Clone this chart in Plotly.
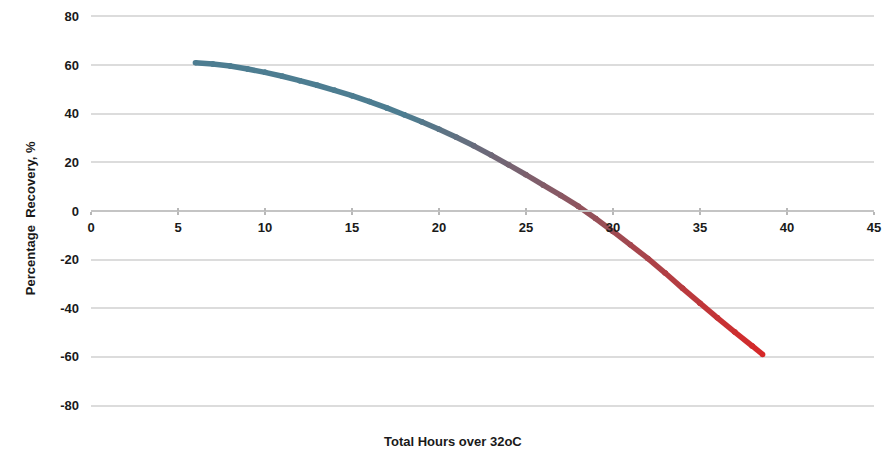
import plotly.graph_objects as go

# Data
hours = [6, 7, 8, 9, 10, 11, 12, 13, 14, 15, 16, 17, 18, 19, 20, 21, 22,
         23, 24, 25, 26, 27, 28, 29, 30, 31, 32, 33, 34, 35, 36, 37, 38, 38.6]
recovery = [61, 60.4, 59.6, 58.4, 57, 55.4, 53.6, 51.7, 49.6, 47.4, 45, 42.4, 39.6, 36.7, 33.6, 30.3, 26.8,
            23, 19, 14.9, 10.6, 6.4, 2.0, -3.1, -8.4, -13.9, -19.5, -25.5, -31.8, -37.9, -43.9, -49.8, -55.5, -59]

x_ticks = [0, 5, 10, 15, 20, 25, 30, 35, 40, 45]
y_ticks = [-80, -60, -40, -20, 0, 20, 40, 60, 80]

x_title = "Total Hours over 32oC"
y_title = "Percentage  Recovery, %"

START_RGB = (77, 125, 145)
END_RGB = (214, 40, 40)
FONT = "Liberation Sans, Arial, sans-serif"


def seg_color(xm):
    t = (xm - 18) / (38.6 - 18)
    t = max(0.0, min(1.0, t))
    r, g, b = (round(START_RGB[i] + (END_RGB[i] - START_RGB[i]) * t) for i in range(3))
    return f"rgb({r},{g},{b})"


fig = go.Figure()

for i in range(len(hours) - 1):
    xm = (hours[i] + hours[i + 1]) / 2
    c = seg_color(xm)
    fig.add_trace(go.Scatter(
        x=hours[i:i + 2], y=recovery[i:i + 2],
        mode="lines+markers",
        line=dict(color=c, width=5.5),
        marker=dict(color=[seg_color(hours[i]), seg_color(hours[i + 1])], size=5.5, line=dict(width=0)),
        showlegend=False, hoverinfo="skip",
    ))

# invisible trace for second x axis (inside ticks)
fig.add_trace(go.Scatter(x=[0], y=[0], xaxis="x2", mode="markers",
                         marker=dict(opacity=0), showlegend=False, hoverinfo="skip"))

fig.update_layout(
    width=883, height=452,
    margin=dict(l=91, r=9, t=14, b=44, autoexpand=False),
    paper_bgcolor="white", plot_bgcolor="white",
    font=dict(family=FONT, color="#1a1a1a"),
    xaxis=dict(
        range=[0, 45], tickvals=x_ticks, ticktext=[str(v) for v in x_ticks],
        anchor="free", position=0.5, automargin=False,
        showgrid=False, zeroline=False,
        showline=True, linecolor="#c4c4c4", linewidth=2,
        ticks="outside", ticklen=3, tickwidth=1.5, tickcolor="#b8b8b8",
        ticklabelstandoff=1,
        tickfont=dict(size=13, family=FONT, color="#1a1a1a", weight="bold"),
    ),
    xaxis2=dict(
        range=[0, 45], tickvals=x_ticks, overlaying="x",
        anchor="free", position=0.5, automargin=False,
        showgrid=False, zeroline=False, showline=False,
        showticklabels=False,
        ticks="inside", ticklen=3, tickwidth=1.5, tickcolor="#b8b8b8",
    ),
    yaxis=dict(
        range=[-81, 81], tickvals=y_ticks, ticktext=[str(v) for v in y_ticks],
        automargin=False,
        showgrid=True, gridcolor="#dcdcdc", gridwidth=1.5,
        zeroline=False, showline=False, ticks="",
        ticklabelstandoff=11,
        tickfont=dict(size=13, family=FONT, color="#1a1a1a", weight="bold"),
    ),
    annotations=[
        dict(text=x_title, xref="paper", yref="paper", x=0.4617, y=-0.0852,
             showarrow=False, xanchor="center", yanchor="middle",
             font=dict(size=13, family=FONT, color="#1a1a1a", weight="bold")),
        dict(text=y_title, xref="paper", yref="paper", x=-0.078, y=0.4816,
             showarrow=False, textangle=-90, xanchor="center", yanchor="middle",
             font=dict(size=13, family=FONT, color="#1a1a1a", weight="bold")),
    ],
)

fig.write_html("out.html", config={"displayModeBar": False},
               post_script="document.body.style.margin='0px';")
